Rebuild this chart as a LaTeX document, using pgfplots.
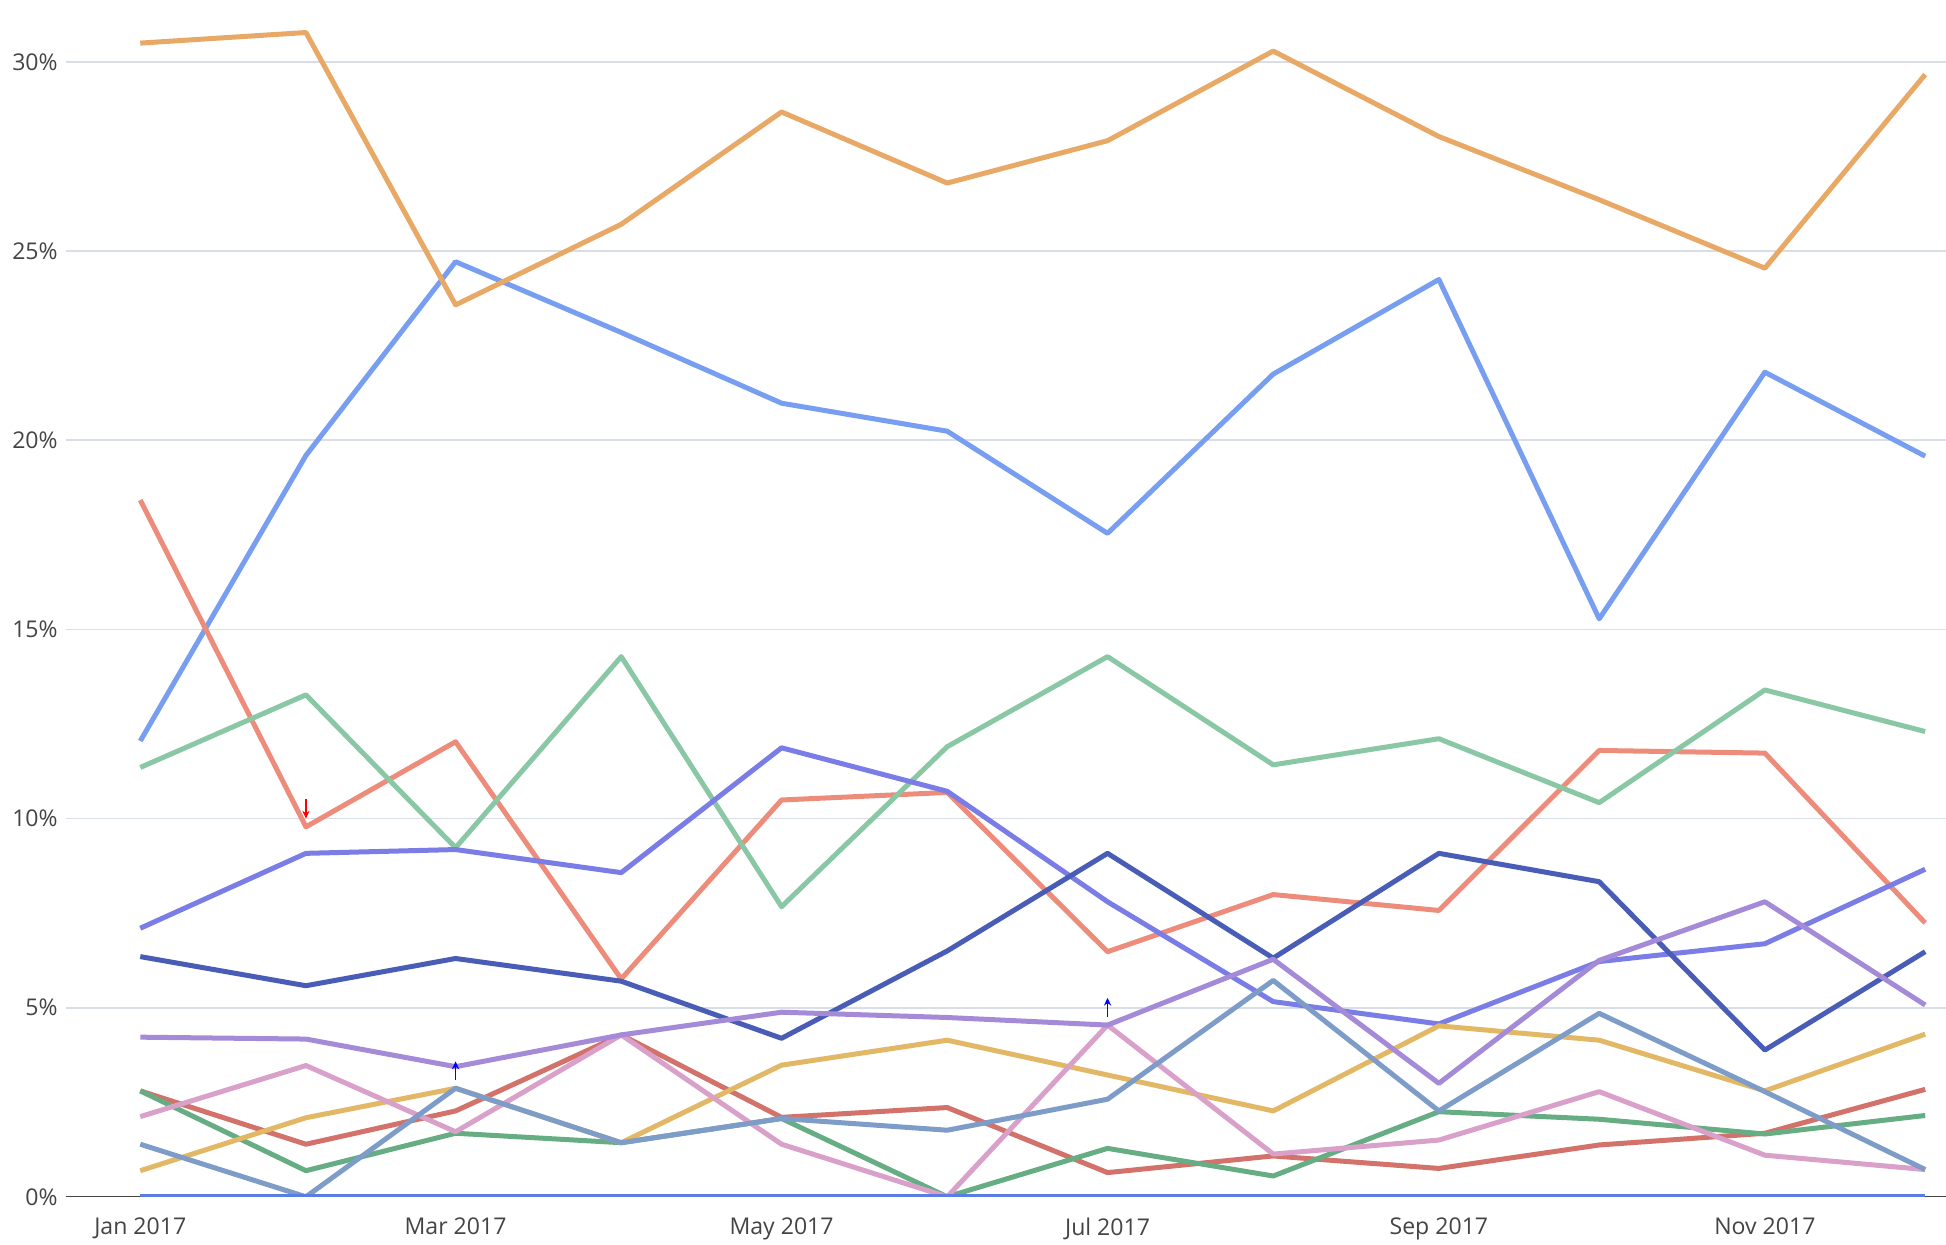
\documentclass[border=0pt]{standalone}
\usepackage{fontspec}
\setmainfont{Open Sans}
\usepackage{pgfplots}
\usepackage{pgfplotstable}
\pgfplotsset{compat=1.18}
\usetikzlibrary{arrows.meta}

\definecolor{cOr}{RGB}{232,168,102}
\definecolor{cLb}{RGB}{119,158,240}
\definecolor{cSa}{RGB}{238,140,123}
\definecolor{cLg}{RGB}{138,199,164}
\definecolor{cPb}{RGB}{122,125,230}
\definecolor{cDb}{RGB}{74,93,182}
\definecolor{cLv}{RGB}{165,138,216}
\definecolor{cGo}{RGB}{226,184,102}
\definecolor{cRd}{RGB}{210,114,106}
\definecolor{cGr}{RGB}{102,173,132}
\definecolor{cPk}{RGB}{217,160,201}
\definecolor{cSt}{RGB}{126,156,200}
\definecolor{cZe}{RGB}{90,125,228}
\definecolor{gridc}{RGB}{216,221,232}
\definecolor{txt}{RGB}{68,68,68}

% day of year (Jan 1 = 0), values in percent
\pgfplotstableread{
day  or     lb     sa     lg     pb     db     lv    go    rd    gr    pk    st    ze
0    30.50  12.05  18.42  11.35  7.10   6.35   4.22  0.69  2.80  2.80  2.12  1.39  0
31   30.78  19.60  9.78   13.27  9.08   5.58   4.17  2.09  1.39  0.69  3.47  0.00  0
59   23.58  24.72  12.03  9.23   9.18   6.30   3.44  2.87  2.27  1.68  1.72  2.87  0
90   25.71  22.85  5.76   14.28  8.57   5.70   4.28  1.43  4.28  1.43  4.28  1.43  0
120  28.68  20.98  10.49  7.67   11.87  4.19   4.88  3.48  2.10  2.07  1.39  2.07  0
151  26.80  20.24  10.69  11.90  10.72  6.50   4.74  4.14  2.36  0.00  0.00  1.76  0
181  27.92  17.54  6.48   14.28  7.80   9.08   4.54  3.22  0.64  1.28  4.54  2.58  0
212  30.29  21.75  7.99   11.42  5.16   6.31   6.28  2.27  1.08  0.55  1.13  5.72  0
243  28.03  24.25  7.57   12.11  4.57   9.08   3.00  4.52  0.75  2.25  1.50  2.27  0
273  26.36  15.28  11.80  10.42  6.22   8.33   6.25  4.14  1.37  2.05  2.78  4.85  0
304  24.55  21.80  11.73  13.40  6.69   3.88   7.80  2.80  1.68  1.66  1.10  2.78  0
334  29.67  19.58  7.24   12.30  8.66   6.48   5.07  4.30  2.84  2.15  0.72  0.72  0
}\data

\begin{document}
\begin{tikzpicture}
\path[use as bounding box] (-23.74pt,-17pt) rectangle (676.26pt,430.5pt);
\begin{axis}[
  scale only axis,
  width=676.26pt, height=430.5pt,
  xmin=-13.9, xmax=337.9,
  ymin=0, ymax=31.64,
  axis line style={draw=none},
  major tick length=0pt,
  xtick={0,59,120,181,243,304},
  xticklabels={Jan 2017,Mar 2017,May 2017,Jul 2017,Sep 2017,Nov 2017},
  ytick={5,10,15,20,25,30},
  yticklabels={5\%,10\%,15\%,20\%,25\%,30\%},
  extra y ticks={0},
  extra y tick labels={0\%},
  extra y tick style={grid style={draw=txt, line width=0.45pt}},
  ymajorgrids,
  grid style={draw=gridc, line width=0.6pt},
  tick label style={font=\fontsize{8.3}{10}\selectfont, text=txt, inner sep=0pt},
  yticklabel style={anchor=east},
  xticklabel style={anchor=north},
  yticklabel shift=2.8pt,
  xticklabel shift=7.5pt,
  every axis plot/.append style={line width=1.8pt, line join=round, mark=none},
]
\addplot[cLb] table[x=day,y=lb]{\data};
\addplot[cOr] table[x=day,y=or]{\data};
\addplot[cSa] table[x=day,y=sa]{\data};
\addplot[cLg] table[x=day,y=lg]{\data};
\addplot[cPb] table[x=day,y=pb]{\data};
\addplot[cDb] table[x=day,y=db]{\data};
\addplot[cRd] table[x=day,y=rd]{\data};
\addplot[cGr] table[x=day,y=gr]{\data};
\addplot[cGo] table[x=day,y=go]{\data};
\addplot[cPk] table[x=day,y=pk]{\data};
\addplot[cSt] table[x=day,y=st]{\data};
\addplot[cLv] table[x=day,y=lv]{\data};
\addplot[cZe] table[x=day,y=ze]{\data};
% annotation arrows
\draw[red, line width=0.6pt, -{Stealth[length=2.8pt,width=2.6pt]}] (axis cs:31,10.52) -- (axis cs:31,10.0);
\draw[blue, line width=0.6pt, -{Stealth[length=2.8pt,width=2.6pt]}] (axis cs:59,3.09) -- (axis cs:59,3.58);
\draw[blue, line width=0.6pt, -{Stealth[length=2.8pt,width=2.6pt]}] (axis cs:181,4.76) -- (axis cs:181,5.26);
\end{axis}
\end{tikzpicture}
\end{document}
